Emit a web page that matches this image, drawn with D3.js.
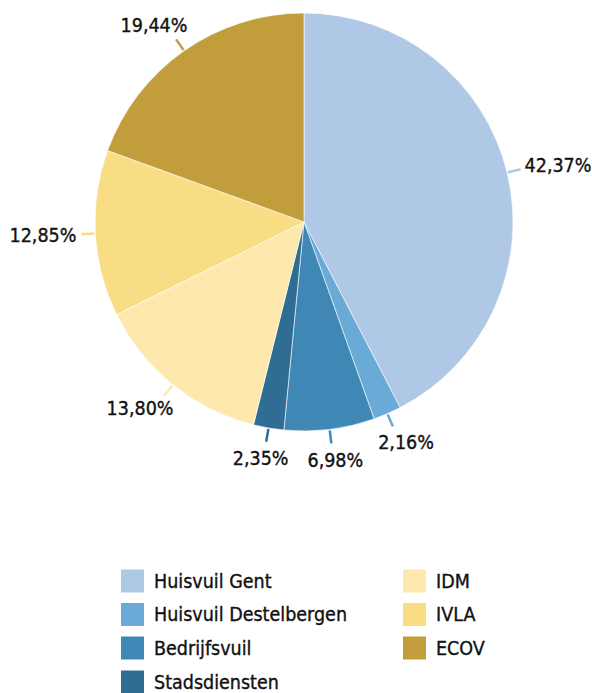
<!DOCTYPE html>
<html>
<head>
<meta charset="utf-8">
<script src="https://cdn.jsdelivr.net/npm/d3@7"></script>
<style>
  html, body { margin: 0; padding: 0; background: #fff; }
  svg text { font-family: "DejaVu Sans Condensed", "DejaVu Sans", sans-serif; fill: #111; stroke: #111; stroke-width: 0.35px; }
</style>
</head>
<body>
<svg id="chart" width="592" height="693"></svg>
<script>
const categories = ["Huisvuil Gent", "Huisvuil Destelbergen", "Bedrijfsvuil", "Stadsdiensten", "IDM", "IVLA", "ECOV"];
const values = [42.37, 2.16, 6.98, 2.35, 13.80, 12.85, 19.44];
const colors = ["#afc8e6", "#6aaad7", "#3f88b5", "#2f6d95", "#fde9ad", "#f9dd84", "#c19d3b"];
const labels = ["42,37%", "2,16%", "6,98%", "2,35%", "13,80%", "12,85%", "19,44%"];

const svg = d3.select("#chart");
const cx = 304, cy = 222, r = 209;

const data = categories.map((c, i) => ({ name: c, value: values[i], color: colors[i], label: labels[i] }));
const pie = d3.pie().value(d => d.value).sort(null);
const arcs = pie(data);
const arc = d3.arc().innerRadius(0).outerRadius(r);

const g = svg.append("g").attr("transform", `translate(${cx},${cy})`);
g.selectAll("path.slice").data(arcs).join("path")
  .attr("class", "slice")
  .attr("d", arc)
  .attr("fill", d => d.data.color)
  .attr("stroke", "#fff")
  .attr("stroke-width", 0.6);

const fs = 19.5;
arcs.forEach(a => {
  const m = (a.startAngle + a.endAngle) / 2;
  const dx = Math.sin(m), dy = -Math.cos(m);
  const x1 = dx * (r + 1), y1 = dy * (r + 1);
  const x2 = dx * (r + 14), y2 = dy * (r + 14);
  g.append("line")
    .attr("x1", x1).attr("y1", y1).attr("x2", x2).attr("y2", y2)
    .attr("stroke", a.data.color).attr("stroke-width", 2.5);
  const t = g.append("text")
    .attr("font-size", fs)
    .attr("text-anchor", "middle")
    .attr("dominant-baseline", "central")
    .text(a.data.label);
  const w = t.node().getComputedTextLength();
  const lx = x2 + dx * (w / 2 + 5);
  const ly = y2 + dy * 17;
  t.attr("x", lx).attr("y", ly);
});

// Legend
const legendCols = [
  { x: 121, items: [0, 1, 2, 3] },
  { x: 403, items: [4, 5, 6] }
];
const rowY = [581, 614.5, 648, 682];
legendCols.forEach(col => {
  col.items.forEach((idx, j) => {
    const lg = svg.append("g").attr("transform", `translate(${col.x},${rowY[j]})`);
    lg.append("rect").attr("x", 0).attr("y", -11.5).attr("width", 23).attr("height", 23)
      .attr("fill", colors[idx]);
    lg.append("text").attr("x", 33).attr("y", 0)
      .attr("dominant-baseline", "central")
      .attr("font-size", fs)
      .text(categories[idx]);
  });
});
</script>
</body>
</html>
